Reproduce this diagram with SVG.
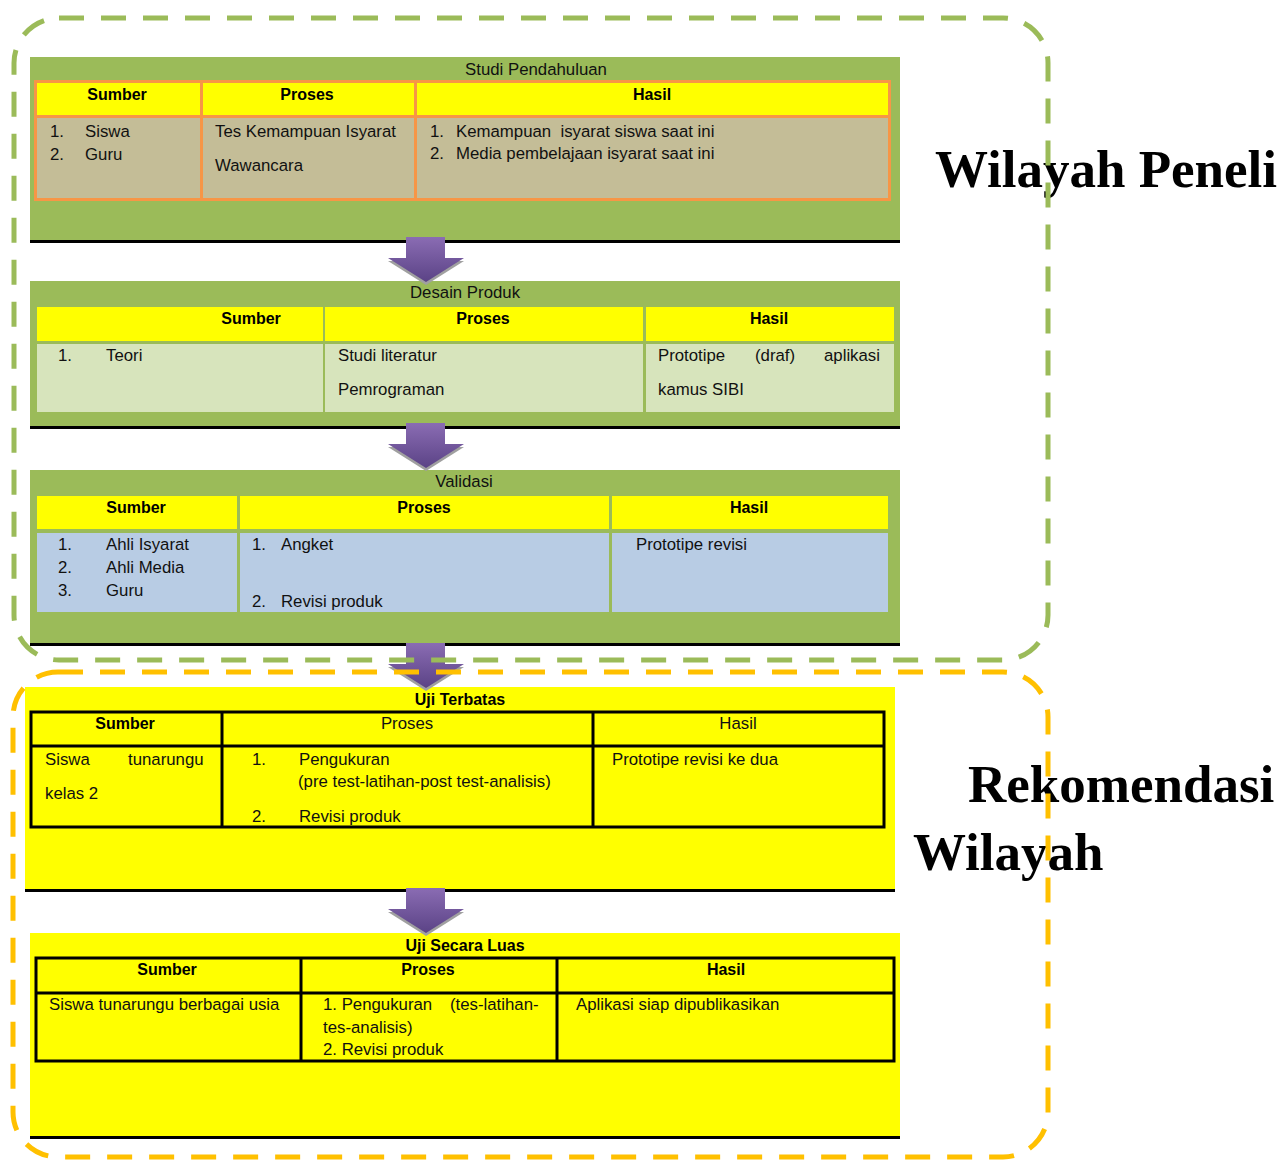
<svg xmlns="http://www.w3.org/2000/svg" width="1279" height="1160" viewBox="0 0 1279 1160">
<defs>
<linearGradient id="pg" x1="0" y1="0" x2="0" y2="1"><stop offset="0" stop-color="#8A6CB3"/><stop offset="1" stop-color="#5B4386"/></linearGradient>
<path id="arr" d="M18,0 H57 V21 H76 L38,45 L0,21 H18 Z"/>
<style>
text{font-family:"Liberation Sans",Arial,sans-serif;font-size:16.8px;fill:#111}
.b{font-weight:bold;font-size:16px;fill:#000}
.c{text-anchor:middle}
.big{font-family:"Liberation Serif","Times New Roman",serif;font-weight:bold;font-size:53px;fill:#000}
.green{fill:#9BBB59}
.yel{fill:#FFFF00}
.tan{fill:#C4BD97}
.lgreen{fill:#D7E4BC}
.blue{fill:#B8CCE4}
.bl{stroke:#000;stroke-width:3}
.tbl{fill:none;stroke:#000;stroke-width:3}
.dash{fill:none;stroke-width:5;stroke-dasharray:25 17}
</style>
</defs>

<g id="studi-pendahuluan">
<rect class="green" x="30" y="57" width="870" height="184"/>
<line class="bl" x1="30" y1="241.5" x2="900" y2="241.5"/>
<rect x="34" y="80" width="857" height="121" fill="#F79646"/>
<rect class="yel" x="37" y="83" width="163" height="32"/>
<rect class="yel" x="203" y="83" width="211" height="32"/>
<rect class="yel" x="417" y="83" width="471" height="32"/>
<rect class="tan" x="37" y="118" width="163" height="80"/>
<rect class="tan" x="203" y="118" width="211" height="80"/>
<rect class="tan" x="417" y="118" width="471" height="80"/>
<text class="c" x="536" y="75">Studi Pendahuluan</text>
<text class="b c" x="117" y="100">Sumber</text>
<text class="b c" x="307" y="100">Proses</text>
<text class="b c" x="652" y="100">Hasil</text>
<text x="50" y="137">1.</text><text x="85" y="137">Siswa</text>
<text x="50" y="160">2.</text><text x="85" y="160">Guru</text>
<text x="215" y="137">Tes Kemampuan Isyarat</text>
<text x="215" y="171">Wawancara</text>
<text x="430" y="137">1.</text><text x="456" y="137" xml:space="preserve">Kemampuan  isyarat siswa saat ini</text>
<text x="430" y="159">2.</text><text x="456" y="159">Media pembelajaan isyarat saat ini</text>
</g>

<g id="desain-produk">
<rect class="green" x="30" y="281" width="870" height="145"/>
<line class="bl" x1="30" y1="427.5" x2="900" y2="427.5"/>
<rect class="yel" x="37" y="307" width="286" height="34"/>
<rect class="yel" x="325" y="307" width="318" height="34"/>
<rect class="yel" x="646" y="307" width="248" height="34"/>
<rect class="lgreen" x="37" y="344" width="286" height="68"/>
<rect class="lgreen" x="325" y="344" width="318" height="68"/>
<rect class="lgreen" x="646" y="344" width="248" height="68"/>
<text class="c" x="465" y="298">Desain Produk</text>
<text class="b c" x="251" y="324">Sumber</text>
<text class="b c" x="483" y="324">Proses</text>
<text class="b c" x="769" y="324">Hasil</text>
<text x="58" y="361">1.</text><text x="106" y="361">Teori</text>
<text x="338" y="361">Studi literatur</text>
<text x="338" y="395">Pemrograman</text>
<text x="658" y="361">Prototipe</text><text x="755" y="361">(draf)</text><text x="824" y="361">aplikasi</text>
<text x="658" y="395">kamus SIBI</text>
</g>

<g id="validasi">
<rect class="green" x="30" y="470" width="870" height="173"/>
<line class="bl" x1="30" y1="644.5" x2="900" y2="644.5"/>
<rect class="yel" x="37" y="496" width="200" height="33"/>
<rect class="yel" x="240" y="496" width="369" height="33"/>
<rect class="yel" x="612" y="496" width="276" height="33"/>
<rect class="blue" x="37" y="533" width="200" height="79"/>
<rect class="blue" x="240" y="533" width="369" height="79"/>
<rect class="blue" x="612" y="533" width="276" height="79"/>
<text class="c" x="464" y="487">Validasi</text>
<text class="b c" x="136" y="513">Sumber</text>
<text class="b c" x="424" y="513">Proses</text>
<text class="b c" x="749" y="513">Hasil</text>
<text x="58" y="550">1.</text><text x="106" y="550">Ahli Isyarat</text>
<text x="58" y="573">2.</text><text x="106" y="573">Ahli Media</text>
<text x="58" y="596">3.</text><text x="106" y="596">Guru</text>
<text x="252" y="550">1.</text><text x="281" y="550">Angket</text>
<text x="252" y="607">2.</text><text x="281" y="607">Revisi produk</text>
<text x="636" y="550">Prototipe revisi</text>
</g>

<g id="uji-terbatas">
<rect class="yel" x="25" y="687" width="870" height="202"/>
<line class="bl" x1="25" y1="890.5" x2="895" y2="890.5"/>
<rect class="tbl" x="31" y="712" width="853" height="115"/>
<line class="bl" x1="31" y1="746" x2="884" y2="746"/>
<line class="bl" x1="222" y1="712" x2="222" y2="827"/>
<line class="bl" x1="593" y1="712" x2="593" y2="827"/>
<text class="b c" x="460" y="705">Uji Terbatas</text>
<text class="b c" x="125" y="729">Sumber</text>
<text class="c" x="407" y="729">Proses</text>
<text class="c" x="738" y="729">Hasil</text>
<text x="45" y="765">Siswa</text><text x="128" y="765">tunarungu</text>
<text x="45" y="799">kelas 2</text>
<text x="252" y="765">1.</text><text x="299" y="765">Pengukuran</text>
<text x="298" y="787">(pre test-latihan-post test-analisis)</text>
<text x="252" y="822">2.</text><text x="299" y="822">Revisi produk</text>
<text x="612" y="765">Prototipe revisi ke dua</text>
</g>

<g id="uji-secara-luas">
<rect class="yel" x="30" y="933" width="870" height="203"/>
<line class="bl" x1="30" y1="1137.5" x2="900" y2="1137.5"/>
<rect class="tbl" x="36" y="958" width="858" height="103"/>
<line class="bl" x1="36" y1="993" x2="894" y2="993"/>
<line class="bl" x1="301" y1="958" x2="301" y2="1061"/>
<line class="bl" x1="557" y1="958" x2="557" y2="1061"/>
<text class="b c" x="465" y="951">Uji Secara Luas</text>
<text class="b c" x="167" y="975">Sumber</text>
<text class="b c" x="428" y="975">Proses</text>
<text class="b c" x="726" y="975">Hasil</text>
<text x="49" y="1010">Siswa tunarungu berbagai usia</text>
<text x="323" y="1010">1. Pengukuran</text><text x="450" y="1010">(tes-latihan-</text>
<text x="323" y="1033">tes-analisis)</text>
<text x="323" y="1055">2. Revisi produk</text>
<text x="576" y="1010">Aplikasi siap dipublikasikan</text>
</g>

<g id="connectors">
<use href="#arr" x="388" y="240" fill="#A0A0A0"/>
<use href="#arr" x="388" y="237" fill="url(#pg)"/>
<use href="#arr" x="388" y="426" fill="#A0A0A0"/>
<use href="#arr" x="388" y="423" fill="url(#pg)"/>
<use href="#arr" x="388" y="646" fill="#A0A0A0"/>
<use href="#arr" x="388" y="643" fill="url(#pg)"/>
<use href="#arr" x="388" y="891" fill="#A0A0A0"/>
<use href="#arr" x="388" y="888" fill="url(#pg)"/>
</g>

<g id="labels">
<text class="big" x="935" y="187">Wilayah Peneli</text>
<text class="big" x="968" y="802">Rekomendasi</text>
<text class="big" x="913" y="870">Wilayah</text>
</g>

<g id="regions">
<rect class="dash" x="14" y="18" width="1034" height="642" rx="45" stroke="#9BBB59"/>
<rect class="dash" x="13" y="672" width="1035" height="485" rx="45" stroke="#FFC000"/>
</g>
</svg>
